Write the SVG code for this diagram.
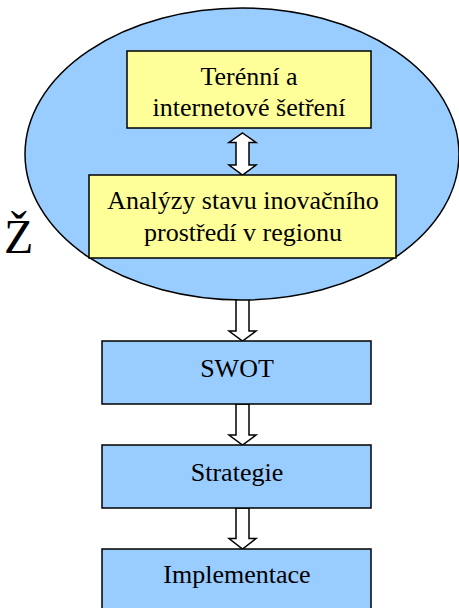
<svg xmlns="http://www.w3.org/2000/svg" width="459" height="608" viewBox="0 0 459 608">
<style>
.t{font-family:"Liberation Serif","Times New Roman",serif;font-size:26px;fill:#000;text-anchor:middle}
.blue{fill:#99CCFF;stroke:#000;stroke-width:1.5}
.yel{fill:#FFFF99;stroke:#000;stroke-width:1.5}
.arr{fill:#fff;stroke:#000;stroke-width:1.5;stroke-linejoin:miter}
</style>
<rect width="459" height="608" fill="#fff"/>
<g id="connectors">
<path class="arr" d="M236,290 L249,290 L249,331 L256,331 L242.5,341 L229,331 L236,331 Z"/>
<path class="arr" d="M236,404 L249,404 L249,435 L256,435 L242.5,445 L229,435 L236,435 Z"/>
<path class="arr" d="M236,508 L249,508 L249,538.5 L256,538.5 L242.5,549 L229,538.5 L236,538.5 Z"/>
</g>
<g id="region">
<ellipse class="blue" cx="242" cy="154" rx="217" ry="146"/>
</g>
<g id="arrow-double">
<path class="arr" d="M242.5,133 L256,142.5 L249,142.5 L249,165 L256,165 L242.5,175 L229,165 L236,165 L236,142.5 L229,142.5 Z"/>
</g>
<g id="setreni">
<rect class="yel" x="127" y="51" width="244" height="77"/>
<text class="t" x="249" y="85">Terénní a</text>
<text class="t" x="249" y="116">internetové šetření</text>
</g>
<g id="analyzy">
<rect class="yel" x="89" y="175" width="307" height="83"/>
<text class="t" x="243" y="209">Analýzy stavu inovačního</text>
<text class="t" x="243" y="241">prostředí v regionu</text>
</g>
<g id="swot">
<rect class="blue" x="102" y="341" width="269" height="63"/>
<text class="t" x="237" y="377">SWOT</text>
</g>
<g id="strategie">
<rect class="blue" x="102" y="445" width="269" height="63"/>
<text class="t" x="237" y="481">Strategie</text>
</g>
<g id="implementace">
<rect class="blue" x="102" y="549" width="269" height="70"/>
<text class="t" x="237" y="583">Implementace</text>
</g>
<g id="fragment">
<text x="4" y="253" style="font-family:'Liberation Serif','Times New Roman',serif;font-size:48px;fill:#000">Ž</text>
</g>
</svg>
